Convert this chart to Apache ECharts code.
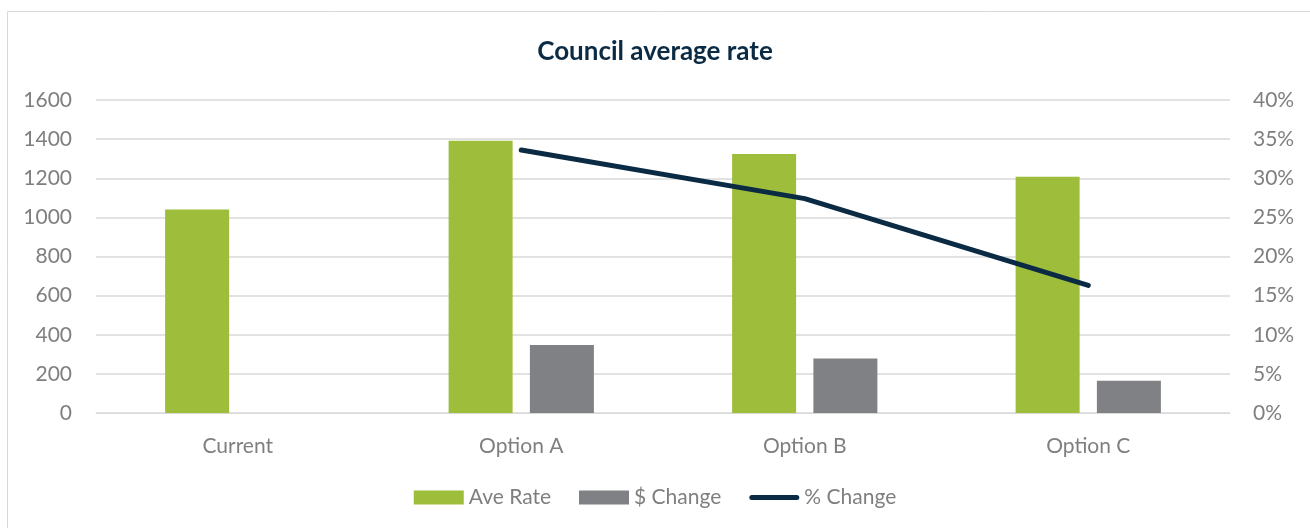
<!DOCTYPE html>
<html>
<head>
<meta charset="utf-8">
<script src="https://cdn.jsdelivr.net/npm/echarts@6/dist/echarts.min.js"></script>
<style>
  html, body { margin: 0; padding: 0; background: #fff; }
  #chart { width: 1310px; height: 528px; }
</style>
</head>
<body>
<div id="chart"></div>
<script>
// data
var categories = ['Current', 'Option A', 'Option B', 'Option C'];
var aveRate = [1040, 1392, 1324, 1208];
var dollarChange = [null, 347, 279, 165];
var pctChange = [null, 33.6, 27.4, 16.3];

var leftTicks = { min: 0, max: 1600, interval: 200 };
var rightTicks = { min: 0, max: 40, interval: 5 };

var chart = echarts.init(document.getElementById('chart'));
var grey = '#7f7f7f';
var navy = '#0b2b44';
var font = 'Lato, "Open Sans", sans-serif';
// thin line icon for the legend (tiny corner dots keep the box 50x14)
var lineIcon = 'path://M0,0h0.05v0.05h-0.05z M2.5,4.5h45a2.5,2.5 0 0 1 0,5h-45a2.5,2.5 0 0 1 0,-5z M50,14h-0.05v-0.05h0.05z';

var option = {
  backgroundColor: '#ffffff',
  animation: false,
  graphic: [{
    type: 'rect',
    shape: { x: 7.5, y: 11.5, width: 1320, height: 540 },
    style: { fill: 'none', stroke: '#d9d9d9', lineWidth: 1 }
  }],
  title: {
    text: 'Council average rate',
    left: 'center',
    top: 34,
    textStyle: { fontFamily: font, fontSize: 26, fontWeight: 'bold', color: navy }
  },
  legend: {
    bottom: 15,
    left: 'center',
    itemGap: 28,
    itemWidth: 50,
    itemHeight: 14,
    textStyle: { fontFamily: font, fontSize: 21, color: grey },
    data: [
      { name: 'Ave Rate', icon: 'rect' },
      { name: '$ Change', icon: 'rect' },
      { name: '% Change', icon: lineIcon, itemStyle: { color: navy } }
    ]
  },
  grid: { left: 96, right: 80, top: 100, bottom: 115 },
  xAxis: {
    type: 'category',
    data: categories,
    axisLine: { lineStyle: { color: '#d9d9d9', width: 1 } },
    axisTick: { show: false },
    axisLabel: { fontFamily: font, fontSize: 21, color: grey, margin: 23 }
  },
  yAxis: [{
    type: 'value',
    min: leftTicks.min,
    max: leftTicks.max,
    interval: leftTicks.interval,
    axisLine: { show: false },
    axisTick: { show: false },
    splitLine: { lineStyle: { color: '#d9d9d9', width: 1.5 } },
    axisLabel: { fontFamily: font, fontSize: 21, color: grey, margin: 24, formatter: function (v) { return String(v); } }
  }, {
    type: 'value',
    min: rightTicks.min,
    max: rightTicks.max,
    interval: rightTicks.interval,
    axisLine: { show: false },
    axisTick: { show: false },
    splitLine: { show: false },
    axisLabel: { fontFamily: font, fontSize: 21, color: grey, margin: 23, formatter: '{value}%' }
  }],
  series: [{
    name: 'Ave Rate',
    type: 'bar',
    data: aveRate,
    barWidth: 64,
    barGap: '27%',
    itemStyle: { color: '#9ebd3b' }
  }, {
    name: '$ Change',
    type: 'bar',
    data: dollarChange,
    barWidth: 64,
    barGap: '27%',
    itemStyle: { color: '#808184' }
  }, {
    name: '% Change',
    type: 'line',
    yAxisIndex: 1,
    data: pctChange,
    symbol: 'none',
    lineStyle: { color: navy, width: 5, cap: 'round' },
    itemStyle: { color: navy }
  }]
};

chart.setOption(option);
</script>
</body>
</html>
